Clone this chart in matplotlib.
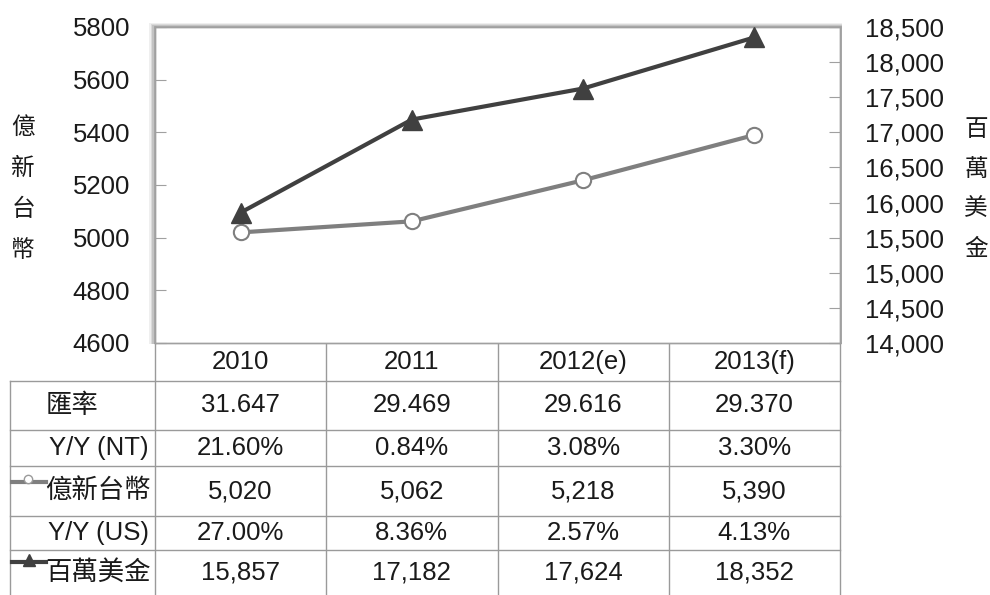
import matplotlib
matplotlib.use("Agg")
import matplotlib.pyplot as plt
import matplotlib.transforms as mtransforms
from matplotlib.lines import Line2D
from matplotlib.patches import Rectangle
from matplotlib.ticker import FuncFormatter, MultipleLocator

plt.rcParams['font.family'] = ['Liberation Sans', 'Noto Sans CJK TC', 'DejaVu Sans']

# data
years = ["2010", "2011", "2012(e)", "2013(f)"]
rate = ["31.647", "29.469", "29.616", "29.370"]
yoy_nt = ["21.60%", "0.84%", "3.08%", "3.30%"]
ntd = [5020, 5062, 5218, 5390]
yoy_us = ["27.00%", "8.36%", "2.57%", "4.13%"]
usd = [15857, 17182, 17624, 18352]

W, H = 990, 595
def fx(px):
    return px / W
def fy(py):
    return 1 - py / H

FS = 18.5
TC = '#1a1a1a'

fig = plt.figure(figsize=(9.9, 5.95), dpi=100)
L, R, T, B = 155, 840, 27, 343
ax = fig.add_axes([fx(L), fy(B), fx(R) - fx(L), fy(T) - fy(B)])
ax2 = ax.twinx()

# soft shadow behind the plot box
for i, a in enumerate([0.12, 0.18, 0.25, 0.35]):
    d = 6 - i * 1.5
    fig.add_artist(Rectangle((fx(L - d), fy(B + 1)), fx(R + 2) - fx(L - d), fy(T - d * 0.6) - fy(B + 1),
                             facecolor='#808080', edgecolor='none', alpha=a, zorder=0))
ax.set_facecolor('white')
ax.set_zorder(2)
ax2.set_zorder(3)

x = list(range(len(years)))
ax.plot(x, ntd, color='#7f7f7f', lw=3, marker='o', ms=11, mfc='white', mec='#7f7f7f', mew=1.5, zorder=3)
ax2.plot(x, usd, color='#404040', lw=3, marker='^', ms=14, mfc='#404040', mec='#404040', zorder=3)

ax.set_xlim(-0.5, 3.5)
ax.set_ylim(4600, 5800)
ax2.set_ylim(14000, 18500)
ax.yaxis.set_major_locator(MultipleLocator(200))
ax2.yaxis.set_major_locator(MultipleLocator(500))
ax2.yaxis.set_major_formatter(FuncFormatter(lambda v, p: f"{int(v):,}"))
ax.set_xticks([])

for a in (ax, ax2):
    for s in a.spines.values():
        s.set_color('#a0a0a0')
        s.set_linewidth(1)
ax.tick_params(axis='y', direction='in', length=8, color='#a0a0a0', labelsize=FS, pad=18, labelcolor=TC)
ax2.tick_params(axis='y', direction='in', length=8, color='#a0a0a0', labelsize=FS, pad=18, labelcolor=TC)

# vertical axis titles
for i, ch in enumerate("億新台幣"):
    fig.text(fx(23), fy(128 + i * 41), ch, fontsize=17, ha='center', va='center', color=TC)
for i, ch in enumerate("百萬美金"):
    fig.text(fx(976), fy(130 + i * 40), ch, fontsize=17, ha='center', va='center', color=TC)

# table below the plot
tr = mtransforms.blended_transform_factory(ax.transData, fig.transFigure)
rows_y = [343, 381, 430, 466, 516, 550, 595]
gc = '#9a9a9a'
for y in rows_y[1:-1]:
    fig.add_artist(Line2D([fx(10), fx(R)], [fy(y), fy(y)], color=gc, lw=1))
fig.add_artist(Line2D([fx(10), fx(10)], [fy(381), fy(595)], color=gc, lw=1))
for xb in [-0.5, 0.5, 1.5, 2.5, 3.5]:
    fig.add_artist(Line2D([xb, xb], [fy(343), fy(595)], color=gc, lw=1, transform=tr))

def mid(i):
    return fy((rows_y[i] + rows_y[i + 1]) / 2)

for i, yr in enumerate(years):
    fig.text(i, mid(0), yr, transform=tr, fontsize=FS, ha='center', va='center', color=TC)
for r, vals in enumerate([rate, yoy_nt, [f"{v:,}" for v in ntd], yoy_us, [f"{v:,}" for v in usd]]):
    for i, v in enumerate(vals):
        fig.text(i, mid(r + 1), v, transform=tr, fontsize=FS, ha='center', va='center', color=TC)

fig.text(fx(72), mid(1), "匯率", fontsize=19, ha='center', va='center', color=TC)
fig.text(fx(149), mid(2), "Y/Y (NT)", fontsize=FS, ha='right', va='center', color=TC)
fig.text(fx(151), mid(3), "億新台幣", fontsize=19, ha='right', va='center', color=TC)
fig.text(fx(149), mid(4), "Y/Y (US)", fontsize=FS, ha='right', va='center', color=TC)
fig.text(fx(151), mid(5), "百萬美金", fontsize=19, ha='right', va='center', color=TC)

# legend keys in the table
fig.add_artist(Line2D([fx(12), fx(46)], [fy(482), fy(482)], color='#7f7f7f', lw=3))
fig.add_artist(Line2D([fx(28)], [fy(479)], color='#7f7f7f', marker='o', ms=6, mfc='white', mec='#9a9a9a', mew=1))
fig.add_artist(Line2D([fx(12), fx(46)], [fy(562), fy(562)], color='#404040', lw=3))
fig.add_artist(Line2D([fx(29)], [fy(560)], color='#404040', marker='^', ms=8, mfc='#404040', mec='#404040'))

fig.savefig("out.png", dpi=100)
